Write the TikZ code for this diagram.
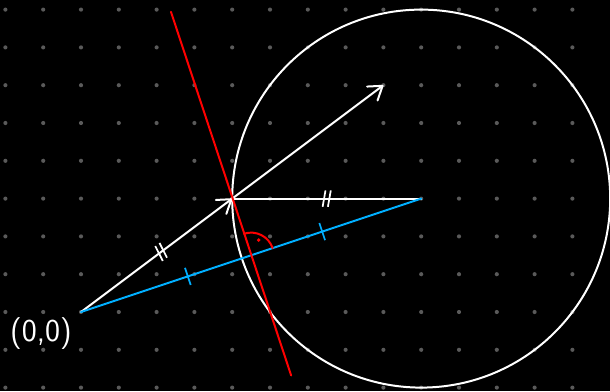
\documentclass[tikz,border=0pt]{standalone}
\usetikzlibrary{calc,arrows.meta}
\definecolor{dotgray}{RGB}{90,90,90}
\definecolor{skyblue}{RGB}{0,175,255}
\begin{document}
\begin{tikzpicture}[
  thickline/.style={line width=1.5pt, line cap=round},
  vec/.style={thickline, white, -{Straight Barb[length=3.4mm,width=4.6mm,round]}},
  tickmark/.style={line width=1.3pt}
]
\fill[black] (-2.143,-2.09) rectangle (13.995,8.254);
\useasboundingbox (-2.143,-2.09) rectangle (13.995,8.254);
\foreach \x in {-2,...,13} \foreach \y in {-2,...,8} \fill[dotgray] (\x,\y) circle (0.055);
\coordinate (O) at (0,0);
\coordinate (A) at (4,3);
\coordinate (C) at (9,3);
\coordinate (T) at (8,6);
\coordinate (M) at (4.5,1.5);
\coordinate (R1) at (2.38,7.94);
\coordinate (R2) at (5.56,-1.68);
\draw[thickline, white] (C) circle (5);
\draw[thickline, white] (A) -- (C);
\draw[vec] (O) -- (A);
\draw[vec] (A) -- (T);
\draw[thickline, skyblue] (O) -- (C);
\draw[thickline, red] (R1) -- (R2);
% right angle mark
\draw[thickline, red] ($(M)+(108.43:0.6)$) arc[start angle=108.43, end angle=18.43, radius=0.6];
\fill[red] ($(M)+(63.43:0.45)$) circle (0.05);
% double ticks on OA
\coordinate (P1) at ($(O)!0.53!(A)$);
\foreach \s in {-0.07,0.07} {
  \coordinate (Q) at ($(P1)!\s cm!(A)$);
  \draw[tickmark, white] ($(Q)!0.22cm!80:(A)$) -- ($(Q)!0.22cm!-100:(A)$);
}
% double ticks on AC
\coordinate (P2) at ($(A)!0.5!(C)$);
\foreach \s in {-0.07,0.07} {
  \coordinate (Q) at ($(P2)!\s cm!(C)$);
  \draw[tickmark, white] ($(Q)!0.22cm!80:(C)$) -- ($(Q)!0.22cm!-100:(C)$);
}
% single ticks on OC
\foreach \t in {0.314,0.709} {
  \coordinate (Q) at ($(O)!\t!(C)$);
  \draw[tickmark, skyblue] ($(Q)!0.24cm!90:(C)$) -- ($(Q)!0.24cm!-90:(C)$);
}
\node[white, font=\fontsize{24}{24}\selectfont\sffamily] (lbl) at (-1.06,-0.58) {(0,0)};
\end{tikzpicture}
\end{document}
